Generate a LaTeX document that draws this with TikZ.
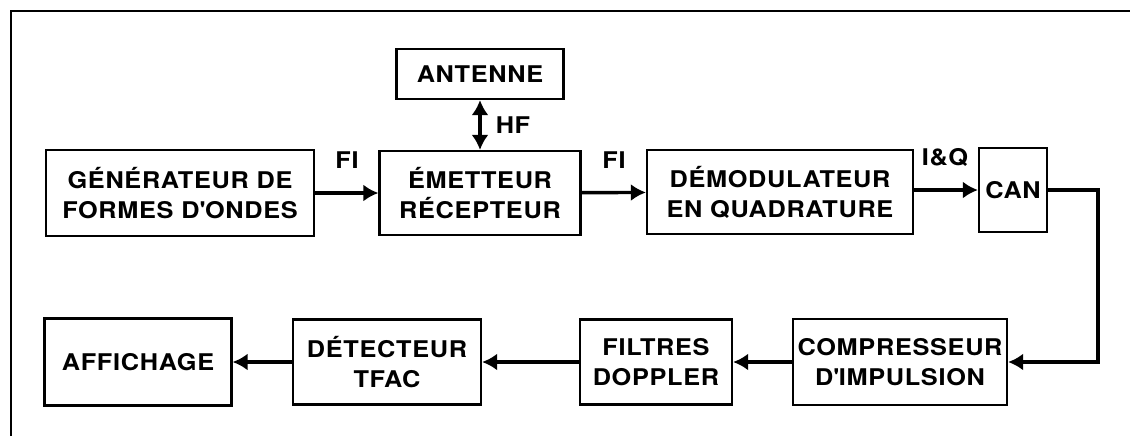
\documentclass[tikz,border=0pt]{standalone}
\usepackage{fontspec}
\setmainfont{TeX Gyre Heros}[FakeStretch=1.1, LetterSpace=3]
\usepackage{tikz}
\usetikzlibrary{arrows.meta,positioning,calc}

\begin{document}
\begin{tikzpicture}[
    x=0.5pt, y=-0.5pt,
    >={Latex[length=7.5pt,width=8.5pt]},
    font=\fontsize{11.5}{15}\selectfont\bfseries,
    blockbox/.style={draw, line width=1.1pt, align=center, inner sep=0pt},
    sigline/.style={line width=1.7pt},
    siglabel/.style={inner sep=0pt}
]
\useasboundingbox (0,0) rectangle (1130,436);
\draw[line width=1.4pt] (11,436) -- (11,11) -- (1130,11);

\node[blockbox, minimum width=134pt, minimum height=43pt] (gen) at (180,193) {GÉNÉRATEUR DE\\FORMES D\textquotesingle ONDES};
\node[blockbox, minimum width=83.5pt, minimum height=25pt] (ant) at (480,74) {ANTENNE};
\node[blockbox, minimum width=100.5pt, minimum height=42pt] (emr) at (480,193) {ÉMETTEUR\\RÉCEPTEUR};
\node[blockbox, minimum width=133pt, minimum height=42pt] (dem) at (780,192) {DÉMODULATEUR\\EN QUADRATURE};
\node[blockbox, minimum width=34pt, minimum height=42pt] (can) at (1013,190) {CAN};
\node[blockbox, minimum width=107pt, minimum height=43pt] (comp) at (900,362) {COMPRESSEUR\\D\textquotesingle IMPULSION};
\node[blockbox, minimum width=76pt, minimum height=42.5pt] (filt) at (656,362) {FILTRES\\DOPPLER};
\node[blockbox, minimum width=94pt, minimum height=42.5pt] (det) at (387,362) {DÉTECTEUR\\TFAC};
\node[blockbox, minimum width=93.5pt, minimum height=43.5pt] (aff) at (138,362) {AFFICHAGE};

\node[siglabel] (fia) at (347,160) {FI};
\node[siglabel] (fib) at (614,160) {FI};
\node[siglabel] (iq) at (945,157) {I\&Q};
\node[siglabel] (hf) at (513,125) {HF};

\draw[->, sigline] (gen) -- (emr);
\draw[<->, sigline] (ant) -- (emr);
\draw[->, sigline] (emr) -- (dem);
\draw[->, sigline] (dem.east |- can) -- (can);
\draw[->, sigline] (can.east) -- ++(50,0) |- (comp.east);
\draw[->, sigline] (comp) -- (filt);
\draw[->, sigline] (filt) -- (det);
\draw[->, sigline] (det) -- (aff);
\end{tikzpicture}
\end{document}
